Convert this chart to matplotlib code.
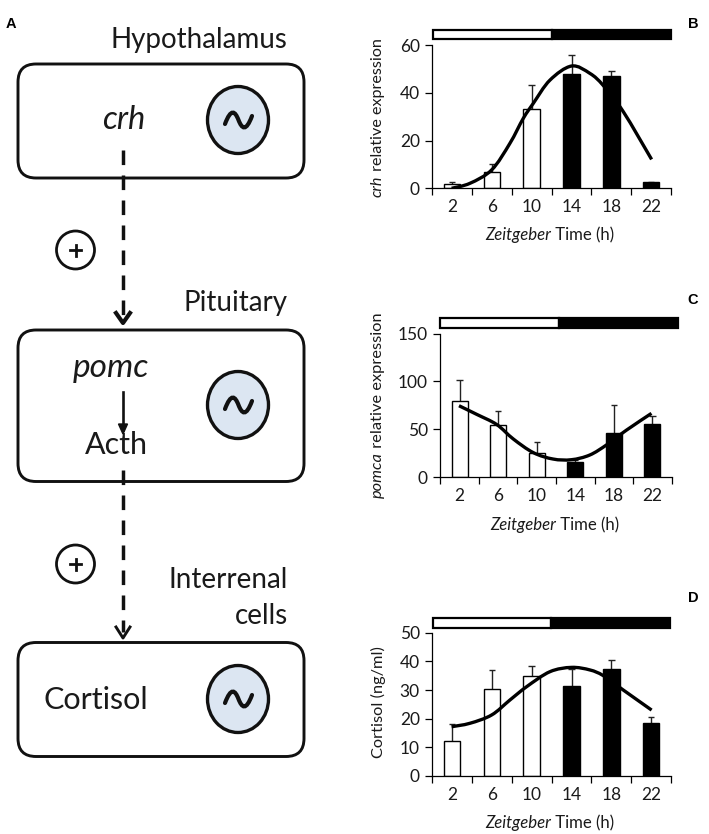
import matplotlib
matplotlib.use("Agg")
import matplotlib.pyplot as plt
import numpy as np
from matplotlib.patches import FancyBboxPatch, Ellipse, Circle, PathPatch, Rectangle
from matplotlib.path import Path

# ---- data ----
zt_labels = [2, 6, 10, 14, 18, 22]
crh_bars = [2, 7, 33, 48, 47, 2.5]
crh_err_top = [2.7, 10.3, 43.3, 56, 49, 2.8]
crh_curve_x = [1.94, 3.79, 5.97, 7.8, 9.15, 10.16, 11.83, 14, 15.85, 17.2, 19.2, 22.05]
crh_curve_y = [0, 2.1, 7.7, 18.8, 29.3, 35.6, 45.3, 51.2, 48.1, 43, 32.1, 12.1]

pomc_bars = [80, 54, 25, 16, 46, 55]
pomc_err_top = [102, 69, 37, 18, 75, 64]
pomc_curve_x = [1.94, 3.77, 5.84, 7.57, 9.65, 11.7, 13.6, 15.5, 17.3, 19.3, 21.9]
pomc_curve_y = [74.6, 65.6, 55, 39.8, 25.5, 18.8, 18.1, 23, 34, 49, 66.6]

cort_bars = [12.3, 30.5, 35, 31.5, 37.5, 18.5]
cort_err_top = [18, 37, 38.5, 37.5, 40.5, 20.7]
cort_curve_x = [1.94, 3.79, 5.97, 7.8, 9.5, 11.83, 14, 15.85, 17.2, 19.2, 22.05]
cort_curve_y = [17.2, 18.4, 21.3, 26.5, 31.2, 36.4, 37.9, 37, 35, 30, 23]

W, H = 709, 834
FONT = "Lato"
plt.rcParams["font.family"] = [FONT, "DejaVu Sans"]
TXT = "#1a1a1a"
fig = plt.figure(figsize=(W / 100, H / 100), dpi=100)


def axes_px(l, t, r, b, **kw):
    return fig.add_axes([l / W, 1 - b / H, (r - l) / W, (b - t) / H], **kw)


def smooth_path(xs, ys):
    pts = np.column_stack([xs, ys])
    p = np.vstack([pts[0], pts, pts[-1]])
    verts = [tuple(pts[0])]
    codes = [Path.MOVETO]
    for i in range(1, len(p) - 2):
        verts += [tuple(p[i] + (p[i + 1] - p[i - 1]) / 6),
                  tuple(p[i + 1] - (p[i + 2] - p[i]) / 6),
                  tuple(p[i + 1])]
        codes += [Path.CURVE4] * 3
    return Path(verts, codes)


def panel(box, bar_box, ymax, yticks, bars, err, cx, cy):
    l, t, r, b = box
    ax = axes_px(l, t, r, b)
    colors = ["white"] * 3 + ["black"] * 3
    ax.bar(zt_labels, bars, width=1.67, color=colors, edgecolor="black", linewidth=1.0, zorder=2)
    ax.vlines(zt_labels, bars, err, color="#222222", linewidth=1.0, zorder=1)
    ax.hlines(err, np.array(zt_labels) - 0.33, np.array(zt_labels) + 0.33, color="#222222", linewidth=1.0, zorder=1)
    ax.add_patch(PathPatch(smooth_path(cx, cy), fill=False, edgecolor="black", linewidth=2.4,
                           capstyle="butt", zorder=3))
    ax.set_xlim(0, 24)
    ax.set_ylim(0, ymax)
    ax.set_xticks(range(0, 25, 4))
    ax.set_xticklabels([])
    ax.set_xticks(zt_labels, minor=True)
    ax.set_xticklabels([str(z) for z in zt_labels], minor=True, fontsize=12.5, color=TXT)
    ax.tick_params(axis="x", which="minor", length=0, pad=8)
    ax.tick_params(axis="x", which="major", length=5, direction="out", width=0.9)
    ax.set_yticks(yticks)
    ax.set_yticklabels([str(v) for v in yticks], fontsize=12.5, color=TXT)
    ax.tick_params(axis="y", length=5, direction="out", width=0.9, pad=4)
    for s in ("top", "right"):
        ax.spines[s].set_visible(False)
    for s in ("left", "bottom"):
        ax.spines[s].set_linewidth(0.9)
    bl, bt, br, bb = bar_box
    bax = axes_px(bl, bt, br, bb)
    bax.set_xlim(0, 24)
    bax.set_ylim(0, 1)
    bax.axis("off")
    bax.add_patch(Rectangle((0, 0), 12, 1, facecolor="white", edgecolor="black", linewidth=1.6, clip_on=False))
    bax.add_patch(Rectangle((12, 0), 12, 1, facecolor="black", edgecolor="black", linewidth=1.6, clip_on=False))
    return ax


panel((432.3, 45, 671, 188.3), (433, 29.5, 671, 39), 60, [0, 20, 40, 60],
      crh_bars, crh_err_top, crh_curve_x, crh_curve_y)
panel((440.3, 333.7, 671.7, 477), (440, 318, 678, 327.5), 150, [0, 50, 100, 150],
      pomc_bars, pomc_err_top, pomc_curve_x, pomc_curve_y)
panel((432.3, 632.7, 671, 776), (432.5, 618, 670, 627.5), 50, [0, 10, 20, 30, 40, 50],
      cort_bars, cort_err_top, cort_curve_x, cort_curve_y)

ov = fig.add_axes([0, 0, 1, 1], facecolor="none")
ov.set_xlim(0, W)
ov.set_ylim(H, 0)
ov.axis("off")


def T(x, y, s, size=12, ha="center", va="center", **kw):
    kw.setdefault("color", TXT)
    return ov.text(x, y, s, fontsize=size, ha=ha, va=va, **kw)


def two_part(xc, yc, italic, rest, size, vertical=False):
    """Italic word then upright words, centred as one label."""
    rot = 90 if vertical else 0
    kw = dict(fontsize=size, color=TXT, rotation=rot, rotation_mode="anchor",
              ha="left", va="center")
    a = ov.text(0, 0, italic, style="italic", **kw)
    b = ov.text(0, 0, rest, **kw)
    r = fig.canvas.get_renderer()
    ea, eb = a.get_window_extent(r), b.get_window_extent(r)
    if vertical:
        la, lb = ea.height, eb.height
        start = yc + (la + lb) / 2
        a.set_position((xc, start))
        b.set_position((xc, start - la))
    else:
        la, lb = ea.width, eb.width
        start = xc - (la + lb) / 2
        a.set_position((start, yc))
        b.set_position((start + la, yc))


two_part(378, 117.5, "crh", " relative expression", 11.6, vertical=True)
two_part(378, 405.5, "pomca", " relative expression", 11.8, vertical=True)
T(378, 702, "Cortisol (ng/ml)", 11.8, rotation=90)
two_part(550, 235, "Zeitgeber", " Time (h)", 12.1)
two_part(555, 525, "Zeitgeber", " Time (h)", 12.1)
two_part(550, 823, "Zeitgeber", " Time (h)", 12.1)

for x, y, s in ((11, 24, "A"), (693, 24, "B"), (693, 300, "C"), (693, 598, "D")):
    T(x, y, s, 10.5, family="Liberation Sans", fontweight="bold", color="black")

boxes = [(18, 64, 304, 178), (18, 330, 304, 481.5), (18, 642.5, 304, 756.5)]
osc_y = [120, 405, 699]
for (l, t, r, b), oy in zip(boxes, osc_y):
    ov.add_patch(FancyBboxPatch((l + 18, t + 18), r - l - 36, b - t - 36,
                                boxstyle="round,pad=18,rounding_size=18",
                                facecolor="white", edgecolor="#111111", linewidth=2.1, zorder=2))
    ov.add_patch(Ellipse((238, oy), 61, 67, facecolor="#dce6f2", edgecolor="#111111", linewidth=2.4, zorder=3))
    wave = Path([(225, oy + 4), (231, oy - 12), (235, oy - 9), (238.5, oy),
                 (242, oy + 9), (246, oy + 12), (252, oy - 4)],
                [Path.MOVETO] + [Path.CURVE4] * 6)
    ov.add_patch(PathPatch(wave, fill=False, edgecolor="#111111", linewidth=3.0, zorder=4, capstyle="round"))

T(287, 40, "Hypothalamus", 20, ha="right")
T(288, 303, "Pituitary", 20, ha="right")
T(288, 580, "Interrenal", 20, ha="right")
T(288, 616, "cells", 20, ha="right")
T(124, 120, "crh", 23.5, style="italic", zorder=5)
T(110.5, 368, "pomc", 24, style="italic", zorder=5)
T(116.5, 445, "Acth", 22, zorder=5)
T(95.5, 700, "Cortisol", 22, zorder=5)

ACX = 123
for y0, y1 in ((150, 316), (470, 632)):
    ov.plot([ACX, ACX], [y0, y1], color="#111111", linewidth=2.5, zorder=5, dashes=(4.2, 3.0))
ov.plot([ACX, ACX], [392, 430], color="#111111", linewidth=1.9, zorder=5)
ov.plot([ACX - 7, ACX, ACX + 7], [313, 323, 313], color="#111111", linewidth=3.0, zorder=5)
ov.plot([ACX - 7, ACX, ACX + 7], [627, 638, 627], color="#111111", linewidth=2.1, zorder=5)
ov.add_patch(plt.Polygon([(ACX - 4.5, 424), (ACX + 4.5, 424), (ACX, 434)], color="#111111", zorder=5))

for cy_ in (250, 564):
    ov.add_patch(Circle((75.5, cy_), 19, facecolor="white", edgecolor="#111111", linewidth=2.0, zorder=3))
    ov.plot([70, 81], [cy_, cy_], color="#111111", linewidth=2.0, zorder=4)
    ov.plot([75.5, 75.5], [cy_ - 5.5, cy_ + 5.5], color="#111111", linewidth=2.0, zorder=4)

fig.savefig("out.png", dpi=100)
